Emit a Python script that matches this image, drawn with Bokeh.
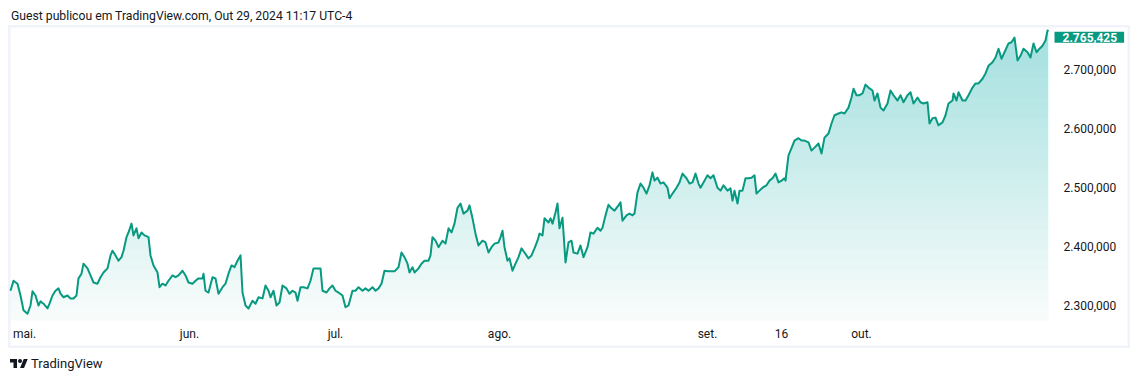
import numpy as np
from bokeh.plotting import figure
from bokeh.models import Range1d, FixedTicker, Label, Div
from bokeh.layouts import column
from bokeh.embed import file_html
from bokeh.resources import INLINE

# ---------------- data ----------------
header_text = "Guest publicou em TradingView.com, Out 29, 2024 11:17 UTC-4"
footer_text = "TradingView"

# bar index (session bars)
bars = [0, 3, 7, 10, 13, 17, 20, 22, 25, 28, 30, 33, 37, 39, 42, 45, 48, 50, 53, 57,
        60, 63, 66, 68, 71, 73, 77, 80, 83, 87, 90, 93, 97, 100, 102, 105, 108, 111, 113, 116,
        118, 121, 123, 126, 128, 131, 134, 138, 140, 143, 147, 149, 152, 155, 158, 162, 165, 168, 172, 175,
        178, 182, 185, 188, 192, 193, 195, 198, 202, 205, 208, 212, 215, 218, 221, 224, 227, 230, 232, 235,
        238, 242, 245, 248, 252, 255,
        258, 260, 263, 266, 269, 272, 276, 279, 282, 285, 287, 290, 293, 297, 300, 303, 307, 310, 312, 316,
        319, 322, 325, 328, 332, 335, 338, 342, 345, 348, 352, 355, 358, 362, 365, 368, 371, 374, 378, 381,
        384, 388, 391, 394, 397, 399, 402, 404, 408, 411, 414, 418, 420, 422, 425, 428, 432, 435, 438, 441,
        444, 447, 450, 453, 457, 459, 462, 465, 468, 472, 475, 478, 481, 484, 488, 490, 492, 494, 497, 499,
        502, 505, 508, 511, 514,
        518, 521, 524, 527, 529, 532, 534, 538, 540, 542, 545, 547, 549, 552, 553, 555, 558, 561, 563, 567,
        570, 573, 577, 580, 583, 587, 590, 592, 595, 598, 601, 604, 608, 610, 612, 616, 619, 622, 624, 627,
        630, 633, 636, 639, 642, 644, 647, 650, 653, 657, 659, 662, 666, 669, 672, 676, 679, 682, 685, 688,
        690, 693, 697, 700, 703, 707, 710, 713, 717, 720, 722, 724, 727, 729, 732, 735, 738, 741, 744, 746,
        749, 752, 756, 759, 762, 765, 768, 771, 774,
        775, 778, 781, 784, 788, 791, 794, 798, 801, 804, 808, 811, 814, 818, 821, 824, 828, 831, 834, 838,
        841, 843, 846, 849, 852, 855, 858, 862, 864, 867, 870, 873, 877, 880, 883, 887, 890, 893, 897, 900,
        903, 907, 910, 913, 917, 919, 922, 925, 928, 932, 935, 938, 942, 943, 946, 948, 952, 955, 958, 962,
        965, 968, 972, 975, 978, 982, 985, 988, 991, 994, 998, 1001, 1004, 1007, 1010, 1013, 1017, 1020, 1023, 1026,
        1029, 1032, 1035, 1037, 1038]

# price in thousands
prices_k = [2325, 2342, 2337, 2317, 2292, 2286, 2300, 2324, 2317, 2300, 2307, 2303, 2295, 2303, 2317, 2325, 2329, 2320, 2314, 2317,
            2312, 2312, 2317, 2346, 2354, 2371, 2363, 2351, 2339, 2337, 2348, 2356, 2363, 2385, 2393, 2385, 2376, 2382, 2393, 2416,
            2424, 2439, 2419, 2431, 2414, 2424, 2419, 2416, 2385, 2368, 2356, 2331, 2337, 2334, 2342, 2351, 2348, 2351, 2359, 2351,
            2339, 2337, 2342, 2346, 2346, 2354, 2325, 2322, 2348, 2346, 2320, 2331, 2337, 2354, 2368, 2365, 2376, 2385, 2322, 2300,
            2295, 2308, 2303, 2314, 2312, 2334,
            2325, 2314, 2325, 2300, 2305, 2334, 2329, 2320, 2325, 2322, 2308, 2331, 2331, 2329, 2342, 2363, 2363, 2363, 2325, 2322,
            2329, 2334, 2325, 2322, 2317, 2297, 2300, 2325, 2325, 2331, 2325, 2329, 2325, 2331, 2325, 2329, 2337, 2359, 2358, 2358,
            2358, 2365, 2390, 2382, 2371, 2356, 2365, 2356, 2363, 2371, 2376, 2376, 2385, 2416, 2410, 2399, 2410, 2405, 2431, 2424,
            2439, 2466, 2473, 2456, 2461, 2470, 2448, 2422, 2402, 2410, 2407, 2390, 2399, 2405, 2407, 2416, 2427, 2399, 2376, 2380,
            2359, 2371, 2382, 2397, 2390,
            2380, 2385, 2397, 2410, 2422, 2419, 2448, 2441, 2448, 2439, 2458, 2473, 2431, 2449, 2424, 2373, 2407, 2410, 2390, 2388,
            2402, 2382, 2399, 2424, 2422, 2432, 2427, 2432, 2453, 2471, 2465, 2461, 2470, 2475, 2444, 2453, 2456, 2453, 2456, 2492,
            2507, 2500, 2490, 2504, 2526, 2512, 2517, 2507, 2509, 2500, 2482, 2490, 2500, 2509, 2524, 2516, 2507, 2509, 2524, 2507,
            2500, 2509, 2521, 2516, 2521, 2500, 2495, 2504, 2495, 2499, 2478, 2495, 2473, 2495, 2495, 2516, 2516, 2517, 2521, 2490,
            2495, 2500, 2504, 2512, 2516, 2524, 2509, 2512, 2516,
            2512, 2555, 2567, 2580, 2584, 2580, 2580, 2577, 2563, 2568, 2575, 2558, 2585, 2592, 2609, 2623, 2626, 2628, 2626, 2636,
            2653, 2668, 2657, 2657, 2660, 2675, 2670, 2665, 2648, 2660, 2636, 2631, 2643, 2665, 2657, 2648, 2657, 2645, 2657, 2662,
            2643, 2653, 2645, 2643, 2645, 2609, 2618, 2619, 2606, 2611, 2623, 2643, 2648, 2660, 2648, 2662, 2648, 2648, 2657, 2670,
            2677, 2677, 2685, 2694, 2707, 2713, 2721, 2736, 2719, 2730, 2745, 2747, 2755, 2716, 2724, 2736, 2730, 2721, 2745, 2730,
            2736, 2741, 2750, 2767, 2765.425]

last_price_label = "2.765,425"

y_tick_values = [2300000, 2400000, 2500000, 2600000, 2700000]
y_tick_labels = ["2.300,000", "2.400,000", "2.500,000", "2.600,000", "2.700,000"]

x_tick_bars = [14, 179, 325, 489, 697, 771, 851]
x_tick_labels = ["mai.", "jun.", "jul.", "ago.", "set.", "16", "out."]

# ---------------- styling / geometry ----------------
GREEN = "#089981"
TEXT = "#131722"
BORDER = "#F0F3FA"
FONT = "Roboto"

prices = np.array(prices_k, dtype=float) * 1000.0
x = np.array(bars, dtype=float)

W, H = 1122, 323                 # whole bordered chart box
pane_top, pane_bot = 2772000, 2274500   # price pane limits
pane_px = 293                    # pane height in px
vpp = (pane_top - pane_bot) / pane_px   # value per pixel
y_range = Range1d(pane_top - (H - 2) * vpp, pane_top + 2 * vpp)
x_range = Range1d(-2, W - 2)

p = figure(width=W, height=H, output_backend="svg", toolbar_location=None,
           x_range=x_range, y_range=y_range,
           y_axis_location="right", min_border=0,
           min_border_left=0, min_border_top=0, min_border_right=0, min_border_bottom=0,
           background_fill_color="white", border_fill_color="white",
           outline_line_color=BORDER, outline_line_width=4)
p.margin = (0, 0, 0, 8)
p.grid.visible = False

# gradient-like fill: stacked translucent layers
p.varea(x=x, y1=np.full_like(prices, pane_bot), y2=prices, fill_color=GREEN, fill_alpha=0.03)
N = 28
for k in range(N):
    lvl = pane_bot + (pane_top - pane_bot) * (k + 1) / (N + 1)
    p.varea(x=x, y1=np.full_like(prices, lvl), y2=np.maximum(prices, lvl),
            fill_color=GREEN, fill_alpha=0.0105)

p.line(x, prices, line_color=GREEN, line_width=2, line_join="round")

# axes
for ax in (p.xaxis[0], p.yaxis[0]):
    ax.axis_line_color = None
    ax.major_tick_line_color = None
    ax.minor_tick_line_color = None
    ax.major_tick_out = 0
    ax.major_tick_in = 0
    ax.minor_tick_out = 0
    ax.major_label_text_font = FONT
    ax.major_label_text_font_size = "12px"
    ax.major_label_text_color = TEXT

p.yaxis[0].ticker = FixedTicker(ticks=y_tick_values)
p.yaxis[0].major_label_overrides = {v: s for v, s in zip(y_tick_values, y_tick_labels)}
p.yaxis[0].major_label_standoff = -67

p.xaxis[0].ticker = FixedTicker(ticks=x_tick_bars)
p.xaxis[0].major_label_overrides = {v: s for v, s in zip(x_tick_bars, x_tick_labels)}
p.xaxis[0].major_label_standoff = -22

# last price tag on the price scale
tag = Label(x=1046, x_units="screen", y=float(prices[-1]), y_offset=-6, text=last_price_label,
            text_color="white", text_font=FONT, text_font_size="12px", text_font_style="bold",
            text_baseline="middle", text_align="left",
            background_fill_color=GREEN, background_fill_alpha=1.0, border_line_color=None,
            padding=dict(left=8, right=7, top=1, bottom=1))
p.add_layout(tag)

header = Div(text=f'<div style="font-family:Roboto;font-size:12.2px;color:{TEXT};line-height:13px;padding-left:3px;white-space:nowrap">{header_text}</div>',
             width=700, height=17)
header.margin = (8, 0, 0, 8)

logo_svg = ('<svg width="18" height="14" viewBox="0 0 36 28" style="display:block">'
            f'<path fill="{TEXT}" d="M14 22H7V11H0V4h14v18zM28 22h-8l7.5-18h8L28 22z"/>'
            f'<circle fill="{TEXT}" cx="20" cy="8" r="4"/></svg>')
footer = Div(text=f'<div style="box-sizing:border-box;display:flex;align-items:center;height:24px;padding-top:8px;padding-left:2px;'
                  f'font-family:Roboto;font-size:13px;color:{TEXT}">{logo_svg}'
                  f'<span style="margin-left:3px">{footer_text}</span></div>',
             width=300, height=24)
footer.margin = (0, 0, 0, 8)

layout = column(header, p, footer)
open("out.html", "w").write(file_html(layout, INLINE))
